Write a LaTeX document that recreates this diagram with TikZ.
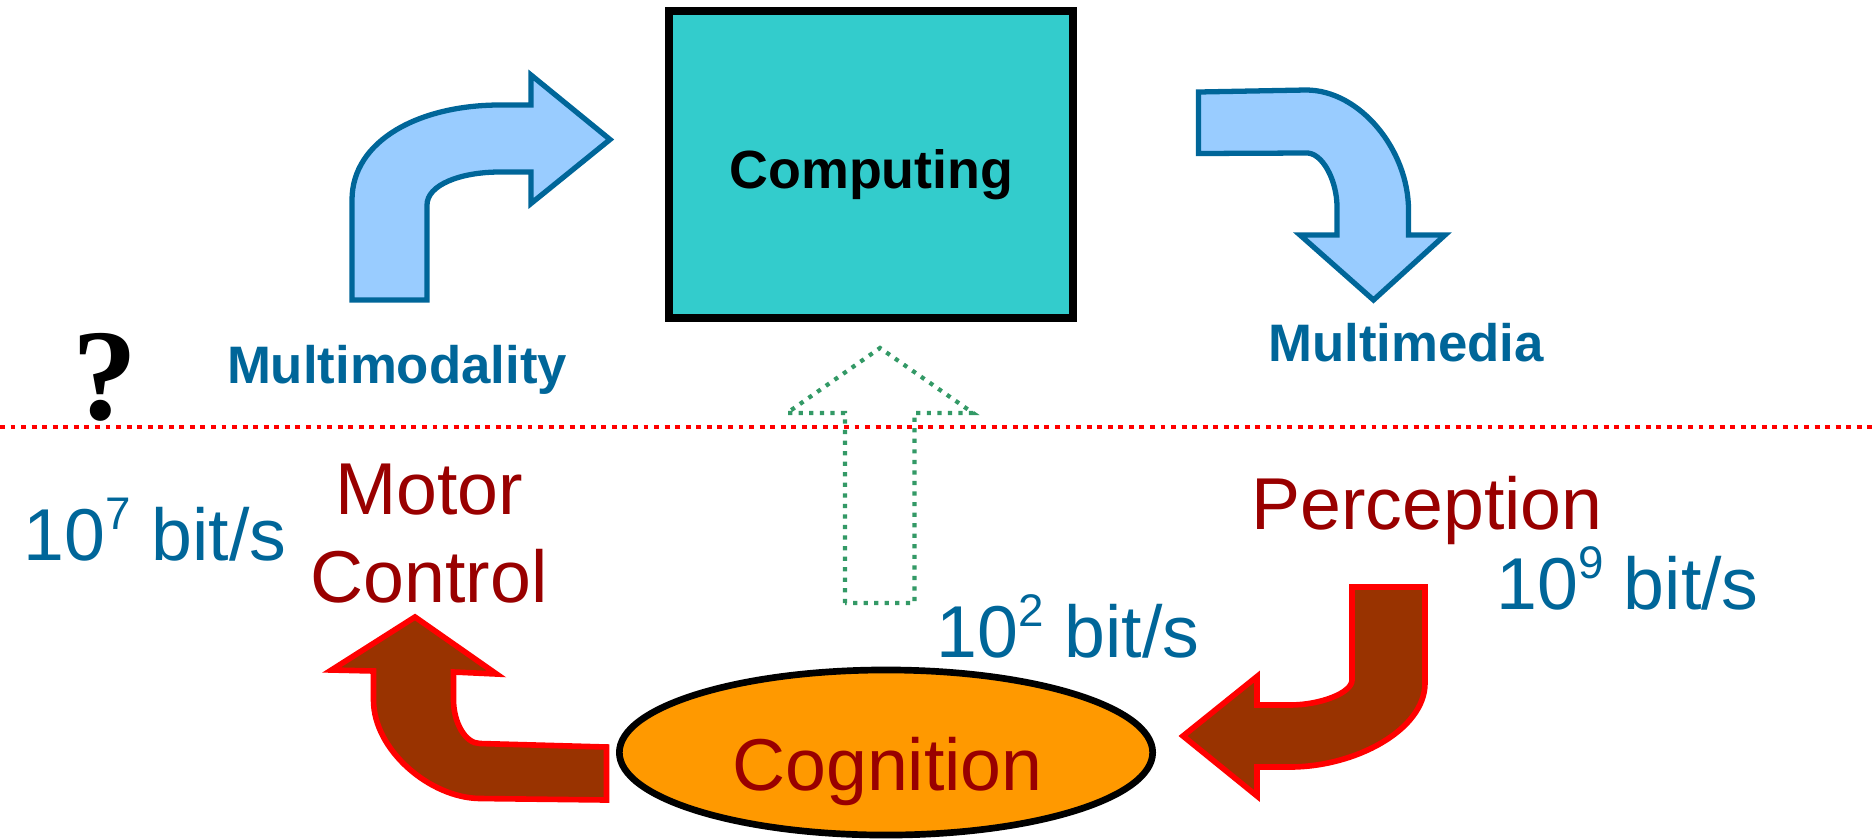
\documentclass[tikz,border=0pt]{standalone}
\usepackage{fontspec}
\usetikzlibrary{shapes.geometric}
\setmainfont{Liberation Sans}
\newfontfamily\qfont{Liberation Serif}
\definecolor{tblue}{RGB}{0,102,153}
\definecolor{tred}{RGB}{153,0,0}
\definecolor{tealfill}{RGB}{51,204,204}
\definecolor{lblue}{RGB}{153,204,255}
\definecolor{brownarrow}{RGB}{153,51,0}
\definecolor{orangefill}{RGB}{255,153,0}
\definecolor{gdot}{RGB}{51,153,102}
\newcommand{\supnum}[1]{\raisebox{0.42em}{\fontsize{13}{13}\selectfont #1}}
\begin{document}
\begin{tikzpicture}[x=0.01cm,y=-0.01cm,
  bluearrow/.style={draw=tblue,fill=lblue,line width=1.5pt,line join=miter},
  brownarr/.style={draw=red,fill=brownarrow,line width=1.6pt,line join=miter},
  labelb/.style={font=\fontsize{15}{18}\selectfont\bfseries,text=tblue,inner sep=0pt,anchor=base},
  labelr/.style={font=\fontsize{20.9}{25}\selectfont,text=tred,inner sep=0pt,anchor=base,align=center},
  rate/.style={font=\fontsize{20.9}{25}\selectfont,text=tblue,inner sep=0pt,anchor=base}]
\useasboundingbox (0,0) rectangle (1876,839);
% Computing box
\node[draw=black,line width=2.2pt,fill=tealfill,minimum width=4.04cm,minimum height=3.07cm,inner sep=0pt] (comp) at (871,164.5) {};
\node[font=\fontsize{15.3}{18}\selectfont\bfseries,inner sep=0pt,anchor=base] (comptext) at (871.5,188) {Computing};
% Labels
\node[labelb] (mm) at (397,383) {Multimodality};
\node[labelb] (med) at (1406,361) {Multimedia};
\node[font=\qfont\bfseries\fontsize{37}{40}\selectfont,inner sep=0pt,anchor=base] (q) at (105,419) {?};
% red dotted line
\coordinate (l1) at (0,427);
\coordinate (l2) at (1876,427);
\draw[red,line width=1.4pt,dash pattern=on 1.4pt off 1.6pt] (l1) -- (l2);
% upper left blue arrow
\draw[bluearrow] (352,300) -- (352,200) .. controls (352,140) and (420,105) .. (500,105)
  -- (531,105) -- (531,75) -- (610,139.5) -- (531,203.5) -- (531,172) -- (500,172)
  .. controls (460,172) and (427,185) .. (427,205) -- (427,300) -- cycle;
% upper right blue arrow
\draw[bluearrow] (1198.5,92) -- (1306,90) .. controls (1360,90) and (1408.5,150) .. (1408.5,210)
  -- (1408.5,235) -- (1445,235) -- (1373.5,300) -- (1300,235) -- (1337,235) -- (1337,207)
  .. controls (1337,180) and (1322,152) .. (1306,153) -- (1198.5,153.5) -- cycle;
% lower left brown arrow
\draw[brownarr] (606.5,747) -- (480,743.5) .. controls (465,743.5) and (453.5,722) .. (453.5,700)
  -- (453.5,672) -- (496.5,674) -- (415,617) -- (331.5,670) -- (373.5,671) -- (373.5,700)
  .. controls (373.5,750) and (430,798) .. (480,798.5) -- (606.5,800) -- cycle;
% lower right brown arrow
\draw[brownarr] (1352,587) -- (1425,587) -- (1425,683) .. controls (1425,730) and (1355,767) .. (1290,767)
  -- (1257,767) -- (1257,796) -- (1183,736) -- (1257,676.5) -- (1257,705) -- (1290,705)
  .. controls (1320,705) and (1352,693) .. (1352,680) -- cycle;
% green dotted arrow
\draw[gdot,line width=1.2pt,dash pattern=on 1.2pt off 1.8pt] (845,603) -- (845,413) -- (787,413) -- (880,348)
  -- (973,413) -- (914.5,413) -- (914.5,603) -- cycle;
% Cognition
\node[draw=black,line width=1.9pt,fill=orangefill,ellipse,minimum width=5.33cm,minimum height=1.65cm,inner sep=0pt] (cog) at (886,752.5) {};
\node[labelr] (cogtext) at (887.5,790) {Cognition};
\node[labelr] (motor) at (429,602) {Motor\\Control};
\node[labelr] (perc) at (1427,529) {Perception};
\node[rate] (r7) at (155,560) {10\supnum{7} bit/s};
\node[rate] (r9) at (1627.5,609) {10\supnum{9} bit/s};
\node[rate] (r2) at (1068,657) {10\supnum{2} bit/s};
\end{tikzpicture}
\end{document}
